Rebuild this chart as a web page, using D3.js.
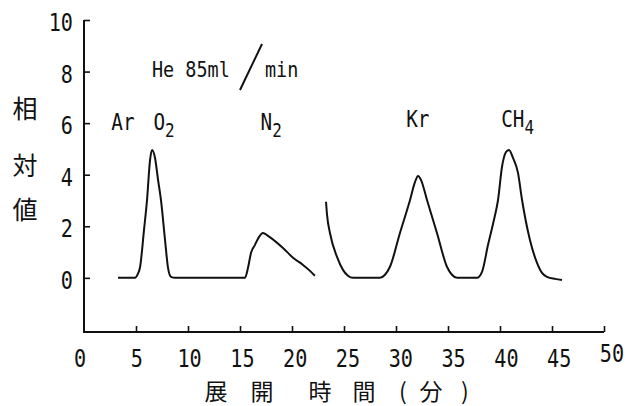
<!DOCTYPE html>
<html>
<head>
<meta charset="utf-8">
<script src="https://cdn.jsdelivr.net/npm/d3@7"></script>
<style>
	body { margin: 0; background: #fff; }
	svg { display: block; }
</style>
</head>
<body>
<div class="svg-container"></div>
<script>
const w = 629;
const h = 406;

// chromatogram traces (time in min, relative value)
const firstTrace = [
	[3.27, 0], [4.9, 0], [5.19, 0.16], [5.38, 0.39], [5.77, 1.86], [6.06, 3.02],
	[6.35, 4.57], [6.54, 4.96], [6.83, 4.65], [7.12, 3.8], [7.4, 3.02], [7.79, 1.47],
	[8.08, 0.39], [8.37, 0.04], [8.75, 0], [15.48, 0], [15.77, 0.39], [16.06, 0.97],
	[16.44, 1.28], [16.83, 1.59], [17.21, 1.74], [17.69, 1.63], [19.13, 1.16],
	[20.1, 0.78], [21.06, 0.5], [21.73, 0.27], [22.2, 0.08]
];
const secondTrace = [
	[23.27, 2.95], [23.37, 2.44], [23.65, 1.74], [24.33, 0.81], [24.9, 0.31],
	[25.38, 0.08], [25.87, 0], [28.46, 0], [28.94, 0.12], [29.42, 0.43], [30.38, 1.74],
	[31.35, 3.02], [31.83, 3.72], [32.12, 3.95], [32.4, 3.8], [32.98, 3.02],
	[33.94, 1.74], [34.9, 0.43], [35.38, 0.12], [35.87, 0], [37.79, 0], [38.27, 0.23],
	[38.85, 1.28], [39.42, 2.25], [39.81, 3.02], [40.19, 4.3], [40.58, 4.88],
	[40.87, 4.96], [41.25, 4.65], [41.73, 4.07], [42.12, 3.02], [42.88, 1.47],
	[43.56, 0.58], [44.04, 0.19], [44.52, 0.04], [45.29, -0.04], [45.96, -0.08]
];

const xTicks = [0, 5, 10, 15, 20, 25, 30, 35, 40, 45, 50];
const yTicks = [0, 2, 4, 6, 8, 10];

// peak names: [main, subscript, time, value]
const peakLabels = [
	['Ar', '', 3.75, 5.75],
	['O', '2', 7.7, 5.75],
	['N', '2', 18.0, 5.75],
	['Kr', '', 32.1, 5.85],
	['CH', '4', 41.7, 5.85]
];

const ink = '#111';
const numFont = "'DejaVu Sans Mono', monospace";
const jpFont = "'Noto Sans CJK JP', sans-serif";
const squeeze = 0.84; // the typewriter digits are narrow

const svg = d3
	.select('.svg-container')
	.append('svg')
	.attr('width', w)
	.attr('height', h)
	.style('background-color', '#fff');

const xScale = d3.scaleLinear().domain([0, 50]).range([84, 604]);
const yScale = d3.scaleLinear().domain([-2.1, 10]).range([332, 20]);

// axes drawn with inward ticks, like the original plotter
const xAxis = d3.axisTop(xScale).tickValues(xTicks.slice(1)).tickSize(6).tickFormat('');
const yAxis = d3.axisRight(yScale).tickValues(yTicks).tickSize(6).tickFormat('');

svg
	.append('g')
	.attr('transform', `translate(0, ${yScale(-2.1)})`)
	.call(xAxis)
	.call(g => g.select('.domain').remove());

svg
	.append('g')
	.attr('transform', `translate(${xScale(0)}, 0)`)
	.call(yAxis)
	.call(g => g.select('.domain').remove());

svg.selectAll('.tick line').attr('stroke', ink).attr('stroke-width', 1.6);

svg
	.append('path')
	.attr('d', `M${xScale(0)},${yScale(10)}V${yScale(-2.1)}H${xScale(50)}`)
	.attr('fill', 'none')
	.attr('stroke', ink)
	.attr('stroke-width', 2);

svg
	.selectAll('.xlab')
	.data(xTicks)
	.enter()
	.append('text')
	.attr('class', 'xlab')
	.attr('transform', d => {
		const x = xScale(d) + (d === 0 ? -4 : d * 0.16);
		const y = d === 50 ? 362 : 367;
		return `translate(${x},${y}) scale(${squeeze},1)`;
	})
	.style('text-anchor', 'middle')
	.style('font-family', numFont)
	.style('font-size', 24)
	.attr('fill', ink)
	.text(d => d);

svg
	.selectAll('.ylab')
	.data(yTicks)
	.enter()
	.append('text')
	.attr('class', 'ylab')
	.attr('transform', d => `translate(73,${yScale(d) + 11}) scale(${squeeze},1)`)
	.style('text-anchor', 'end')
	.style('font-family', numFont)
	.style('font-size', 24)
	.attr('fill', ink)
	.text(d => d);

// y title, characters stacked
svg
	.selectAll('.ytitle')
	.data(['相', '対', '値'])
	.enter()
	.append('text')
	.attr('class', 'ytitle')
	.attr('x', 25)
	.attr('y', (d, i) => [118, 175, 219][i])
	.style('text-anchor', 'middle')
	.style('font-family', jpFont)
	.style('font-size', 25)
	.attr('fill', ink)
	.text(d => d);

// x title, widely spaced
svg
	.selectAll('.xtitle')
	.data(['展', '開', '時', '間', '(', '分', ')'])
	.enter()
	.append('text')
	.attr('class', 'xtitle')
	.attr('x', (d, i) => [216, 262, 320, 364, 403, 431, 465][i])
	.attr('y', 400)
	.style('text-anchor', 'middle')
	.style('font-family', jpFont)
	.style('font-size', 23)
	.attr('fill', ink)
	.text(d => d);

// flow note
svg
	.append('text')
	.attr('transform', `translate(152,77) scale(${squeeze},1)`)
	.style('font-family', numFont)
	.style('font-size', 22)
	.attr('fill', ink)
	.text('He 85ml');

svg
	.append('text')
	.attr('transform', `translate(265,77) scale(${squeeze},1)`)
	.style('font-family', numFont)
	.style('font-size', 22)
	.attr('fill', ink)
	.text('min');

svg
	.append('line')
	.attr('x1', 240)
	.attr('y1', 90)
	.attr('x2', 262)
	.attr('y2', 44)
	.attr('stroke', ink)
	.attr('stroke-width', 2);

const peaks = svg
	.selectAll('.peak')
	.data(peakLabels)
	.enter()
	.append('text')
	.attr('class', 'peak')
	.attr('transform', d => `translate(${xScale(d[2])},${yScale(d[3])}) scale(${squeeze},1)`)
	.style('text-anchor', 'middle')
	.style('font-family', numFont)
	.style('font-size', 23)
	.attr('fill', ink);

peaks.append('tspan').text(d => d[0]);
peaks
	.append('tspan')
	.attr('dy', 7)
	.style('font-size', 19)
	.text(d => d[1]);

const line = d3
	.line()
	.x(d => xScale(d[0]))
	.y(d => yScale(d[1]))
	.curve(d3.curveMonotoneX);

svg
	.selectAll('.trace')
	.data([firstTrace, secondTrace])
	.enter()
	.append('path')
	.attr('class', 'trace')
	.attr('d', line)
	.attr('fill', 'none')
	.attr('stroke', ink)
	.attr('stroke-width', 2)
	.attr('stroke-linejoin', 'round');
</script>
</body>
</html>
